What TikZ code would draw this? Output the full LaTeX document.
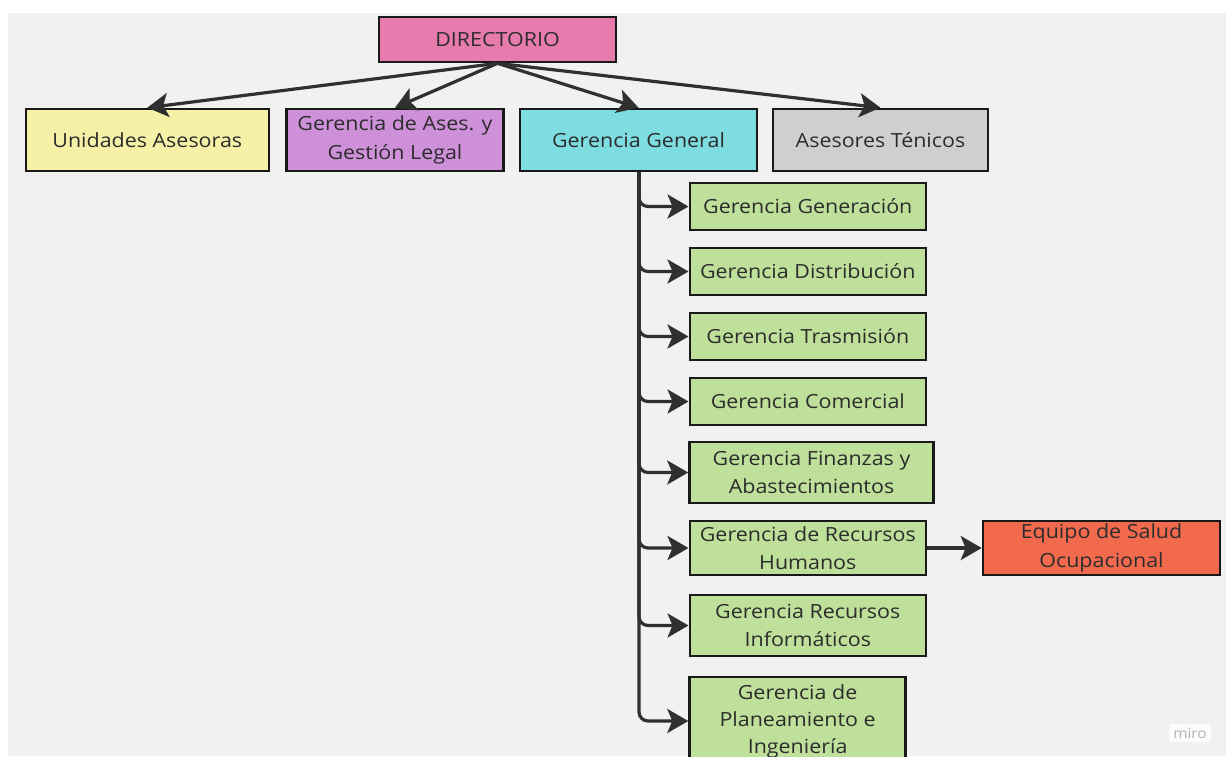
\documentclass[tikz,border=0pt]{standalone}
\usepackage{fontspec}
\setmainfont[FakeStretch=1.1]{Open Sans}
\usetikzlibrary{arrows.meta}
\definecolor{bg}{HTML}{F1F1F1}
\definecolor{cdir}{HTML}{E77BAE}
\definecolor{cua}{HTML}{F6F1A6}
\definecolor{cgal}{HTML}{CF90DA}
\definecolor{cgg}{HTML}{7EDDE1}
\definecolor{cat}{HTML}{CFCFCF}
\definecolor{cgr}{HTML}{BFE09B}
\definecolor{ceq}{HTML}{F26A4E}
\definecolor{cln}{HTML}{303030}
\definecolor{ctx}{HTML}{2C2C2C}
\tikzset{
  orgbox/.style={draw=black!90, line width=2.6pt, inner sep=0pt, align=center,
    text=ctx, font=\fontsize{19.5}{28.5}\selectfont},
  conn/.style={draw=cln, line width=3.2pt, -{Stealth[length=21pt,width=24pt,inset=5pt]}},
}
\begin{document}
\begin{tikzpicture}[x=1pt,y=-1pt]
\useasboundingbox (0,0) rectangle (1226,756);
\fill[white] (0,0) rectangle (1226,756);
\fill[bg] (8,13) rectangle (1226,756);
\begin{scope}
\clip (0,0) rectangle (1226,756);
\node[orgbox, fill=cdir, minimum width=237pt, minimum height=45pt] (dir) at (497.5,39.5) {DIRECTORIO};
\node[orgbox, fill=cua, minimum width=243pt, minimum height=62pt] (ua) at (147.3,140) {Unidades Asesoras};
\node[orgbox, fill=cgal, minimum width=217pt, minimum height=62pt] (gal) at (395,140) {Gerencia de Ases. y\\Gestión Legal};
\node[orgbox, fill=cgg, minimum width=237pt, minimum height=62pt] (gg) at (638.5,140) {Gerencia General};
\node[orgbox, fill=cat, minimum width=215pt, minimum height=62pt] (at) at (880.5,140) {Asesores Ténicos};
\node[orgbox, fill=cgr, minimum width=236pt, minimum height=47pt] (g1) at (807.8,206.5) {Gerencia Generación};
\node[orgbox, fill=cgr, minimum width=236pt, minimum height=47pt] (g2) at (807.8,271.5) {Gerencia Distribución};
\node[orgbox, fill=cgr, minimum width=236pt, minimum height=47pt] (g3) at (807.8,336.5) {Gerencia Trasmisión};
\node[orgbox, fill=cgr, minimum width=236pt, minimum height=47pt] (g4) at (807.8,401.5) {Gerencia Comercial};
\node[orgbox, fill=cgr, minimum width=244pt, minimum height=61pt] (g5) at (811.5,472.5) {Gerencia Finanzas y\\Abastecimientos};
\node[orgbox, fill=cgr, minimum width=236pt, minimum height=54pt] (g6) at (807.8,548) {Gerencia de Recursos\\Humanos};
\node[orgbox, fill=ceq, minimum width=237pt, minimum height=54pt] (eq) at (1101.5,548) {Equipo de Salud\\Ocupacional};
\node[orgbox, fill=cgr, minimum width=236pt, minimum height=61pt] (g7) at (807.8,625.5) {Gerencia Recursos\\Informáticos};
\node[orgbox, fill=cgr, minimum width=216pt, minimum height=88pt, font=\fontsize{19.5}{27}\selectfont] (g8) at (797.6,721) {Gerencia de\\Planeamiento e\\Ingeniería};
\end{scope}
\coordinate (trunk) at (639,172);
\foreach \t in {ua,gal,gg,at}{
  \draw[conn] (dir.south) -- (\t.north);
}
\foreach \t in {g1,g2,g3,g4,g5,g6,g7,g8}{
  \draw[conn, rounded corners=9pt] (trunk) |- (\t.west);
}
\draw[conn] (g6.east) -- (eq.west);
\node[fill=white, fill opacity=0.8, text opacity=1, rounded corners=3pt, inner sep=4pt,
  text=black!30, font=\fontsize{14}{16}\selectfont] (miro) at (1190,733) {miro};
\end{tikzpicture}
\end{document}
